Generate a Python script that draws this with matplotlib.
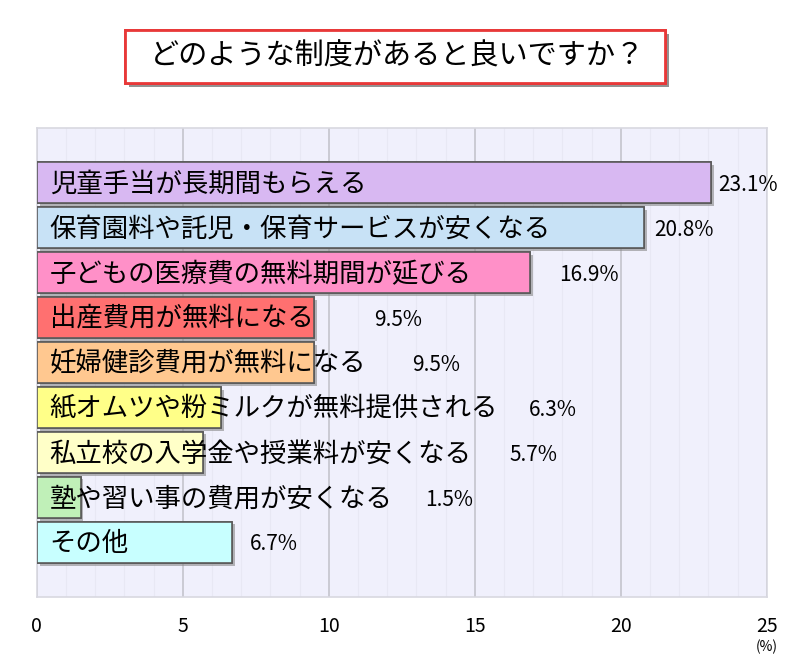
import matplotlib
matplotlib.use('Agg')
import matplotlib.pyplot as plt
import matplotlib.patheffects as pe
from matplotlib.patches import Rectangle
import numpy as np

plt.rcParams['font.family'] = ['Noto Sans CJK JP', 'DejaVu Sans']

title = 'どのような制度があると良いですか？'
labels = ['児童手当が長期間もらえる',
          '保育園料や託児・保育サービスが安くなる',
          '子どもの医療費の無料期間が延びる',
          '出産費用が無料になる',
          '妊婦健診費用が無料になる',
          '紙オムツや粉ミルクが無料提供される',
          '私立校の入学金や授業料が安くなる',
          '塾や習い事の費用が安くなる',
          'その他']
values = [23.1, 20.8, 16.9, 9.5, 9.5, 6.3, 5.7, 1.5, 6.7]
colors = ['#D8B8F2', '#C8E2F6', '#FF90C8', '#FF7070', '#FFC890',
          '#FFFF88', '#FFFFC8', '#C0F0B8', '#C8FFFF']
# where the % labels sit (x, in data units) - they jump around in the original
value_x = [23.35, 21.15, 17.9, 11.55, 12.85, 16.85, 16.2, 13.3, 7.3]
xticks = [0, 5, 10, 15, 20, 25]

fig = plt.figure(figsize=(8, 6.68), dpi=100)
ax = fig.add_axes([0.046, 0.1063, 0.9125, 0.7021])
ax.set_facecolor('#F0F0FC')

y = np.arange(len(labels))
bars = ax.barh(y, values, height=0.92, color=colors, edgecolor='#5A5A5A',
               linewidth=1.2, zorder=3)
for b in bars:
    b.set_path_effects([pe.withSimplePatchShadow(offset=(2, -2), shadow_rgbFace='#888888', alpha=0.6),
                        pe.Normal()])

for i, (lab, v) in enumerate(zip(labels, values)):
    ax.text(0.44, i + 0.04, lab, va='center', ha='left', fontsize=19, color='black', zorder=4)
    ax.text(value_x[i], i + 0.05, f'{v:.1f}%', va='center', ha='left', fontsize=15,
            color='black', zorder=4)

ax.set_xlim(0, 25)
ax.set_ylim(len(labels) - 1 + 1.22, -1.22)
ax.set_xticks(xticks)
ax.set_xticklabels([str(t) for t in xticks], fontsize=14)
ax.set_xticks(np.arange(0, 25, 1), minor=True)
ax.set_yticks([])
ax.tick_params(axis='x', length=0, pad=14, which='both')
ax.grid(axis='x', which='major', color='#C4C4CC', linewidth=1.2, zorder=1)
ax.grid(axis='x', which='minor', color='#E8E8F4', linewidth=0.8, zorder=0)
for s in ax.spines.values():
    s.set_color('#D8D8E0')
    s.set_linewidth(1.2)

ax.annotate('(%)', xy=(25, 0), xycoords=('data', 'axes fraction'),
            xytext=(0, -36), textcoords='offset points', ha='center', va='center',
            fontsize=10)

# title box with shadow
box = Rectangle((125 / 800, 1 - 83 / 668), 540 / 800, 53 / 668, transform=fig.transFigure,
                facecolor='white', edgecolor='#E83838', linewidth=2)
box.set_path_effects([pe.withSimplePatchShadow(offset=(3, -3), shadow_rgbFace='#777777', alpha=0.8),
                      pe.Normal()])
fig.patches.append(box)
fig.text(397 / 800, 1 - 57 / 668, title, ha='center', va='center', fontsize=21)

fig.savefig('out.png', dpi=100)
